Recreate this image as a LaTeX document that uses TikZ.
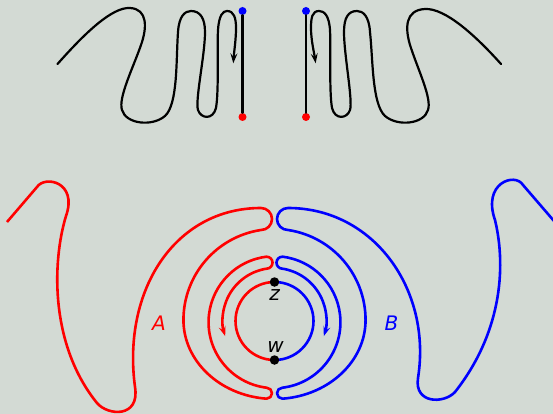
\documentclass[tikz,border=0pt]{standalone}
\usepackage{fontspec}
\setmainfont{DejaVu Sans}
\usetikzlibrary{arrows.meta}
\definecolor{bg}{RGB}{211,218,212}
\begin{document}
\begin{tikzpicture}[x=1pt,y=-1pt,
  curve/.style={line width=2.2pt, line join=round, line cap=round},
  redc/.style={line width=2.6pt, red, line join=round},
  bluec/.style={line width=2.6pt, blue, line join=round},
  tip/.style={-{Stealth[length=10pt,width=7pt,inset=4pt]}},
  dot/.style={circle, fill=#1, inner sep=0pt, minimum size=8pt},
  bigdot/.style={circle, fill=black, inner sep=0pt, minimum size=9.5pt},
  lbl/.style={font=\fontsize{20}{24}\selectfont\itshape, inner sep=0pt}]
\fill[bg] (0,0) rectangle (553,414);
\useasboundingbox (0,0) rectangle (553,414);

% ---------- top figure ----------
\draw[curve, tip] (57.5,64) .. controls (85,33) and (112,7) .. (130,8)
 .. controls (148,9) and (147,28) .. (141,45)
 .. controls (133,68) and (118,98) .. (122,110)
 .. controls (126,124) and (152,127) .. (165,116)
 .. controls (178,104) and (176,60) .. (178,32)
 .. controls (179,16) and (185,11) .. (191,11)
 .. controls (200,11) and (205,18) .. (205,32)
 .. controls (205,55) and (195,100) .. (198,110)
 .. controls (201,119) and (213,120) .. (216,108)
 .. controls (219,90) and (217,50) .. (218,30)
 .. controls (219,15) and (223,11) .. (227,11)
 .. controls (234,11) and (236,18) .. (236,28)
 .. controls (236,40) and (234,52) .. (233.3,63.3);

\draw[curve, tip] (501,64) .. controls (475,35) and (445,8) .. (425,9)
 .. controls (405,10) and (405,28) .. (410,45)
 .. controls (418,70) and (432,98) .. (428,110)
 .. controls (424,124) and (398,127) .. (385,116)
 .. controls (372,104) and (373,60) .. (370,32)
 .. controls (369,16) and (363,11) .. (357,11)
 .. controls (348,11) and (344,18) .. (344,32)
 .. controls (344,55) and (353,100) .. (350,110)
 .. controls (347,119) and (335,120) .. (332,108)
 .. controls (329,90) and (331,50) .. (330,30)
 .. controls (329,15) and (324,11) .. (319,11)
 .. controls (312,11) and (311,18) .. (311,28)
 .. controls (311,40) and (314,52) .. (315.7,63.3);

\node[dot=blue] (b1) at (242.5,11) {};
\node[dot=red] (r1) at (242.5,117) {};
\node[dot=blue] (b2) at (306,11) {};
\node[dot=red] (r2) at (306,117) {};
\draw[curve] (b1) -- (r1);
\draw[curve] (b2) -- (r2);

% ---------- bottom figure ----------
\coordinate (zc) at (274.5,282);
\coordinate (wc) at (274.5,360);

\draw[redc, tip] (7,222) -- (37,187)
 .. controls (45,175) and (78,182) .. (66,216)
 .. controls (52,262) and (50,345) .. (97,403)
 .. controls (108,416) and (140,418) .. (135,387)
 .. controls (122,290) and (175,208) .. (261,208)
 arc[start angle=-90,end angle=90,radius=11]
 arc[start angle=261.5,end angle=180,radius=91]
 arc[start angle=180,end angle=95,x radius=91,y radius=79]
 arc[start angle=90,end angle=-90,radius=5.5]
 arc[start angle=97,end angle=263,radius=66]
 arc[start angle=-90,end angle=90,radius=6]
 arc[start angle=261,end angle=162,radius=52];

\draw[bluec, tip] (554,221) -- (523,185)
 .. controls (515,172) and (482,183) .. (495,220)
 .. controls (507,270) and (500,335) .. (455,392)
 .. controls (444,404) and (414,404) .. (418,378)
 .. controls (432,290) and (374,208) .. (288,208)
 arc[start angle=270,end angle=90,radius=11]
 arc[start angle=-81.5,end angle=0,radius=91]
 arc[start angle=0,end angle=85,x radius=91,y radius=79]
 arc[start angle=90,end angle=270,radius=5.5]
 arc[start angle=83,end angle=-83,radius=66]
 arc[start angle=270,end angle=90,radius=6]
 arc[start angle=-81,end angle=18,radius=52];

\draw[redc] (zc) arc[start angle=270,end angle=90,radius=39];
\draw[bluec] (zc) arc[start angle=-90,end angle=90,radius=39];

\node[bigdot] (z) at (zc) {};
\node[bigdot] (w) at (wc) {};
\node[lbl] (zl) at (274.5,295) {z};
\node[lbl] (wl) at (275.5,347) {w};
\node[lbl, text=red] (A) at (159,323) {A};
\node[lbl, text=blue] (B) at (391.5,323) {B};
\end{tikzpicture}
\end{document}
